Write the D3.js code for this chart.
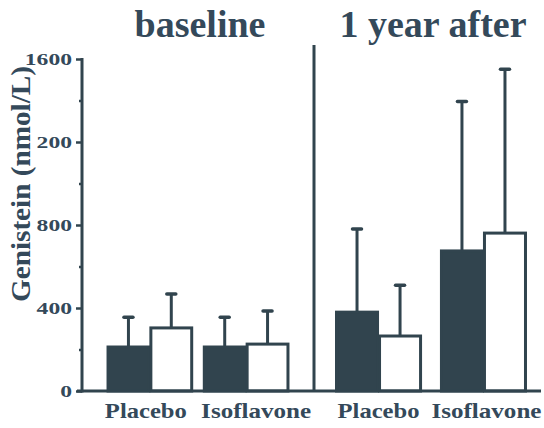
<!DOCTYPE html>
<html>
<head>
<meta charset="utf-8">
<script src="https://cdn.jsdelivr.net/npm/d3@7"></script>
<style>
  html, body { margin: 0; padding: 0; background: #fff; }
  svg { display: block; }
</style>
</head>
<body>
<svg id="chart" width="544" height="428"></svg>
<script>
// ---- data ----
const periods = ["baseline", "1 year after"];
const groups = ["Placebo", "Isoflavone"];
const series = ["filled", "open"];
// means per period x group (baseline Placebo, baseline Isoflavone, 1yr Placebo, 1yr Isoflavone)
const filledMeans = [212, 212, 380, 675];
const filledSD    = [148, 148, 405, 725];
const openMeans   = [304, 226, 265, 761];
const openSD      = [168, 164, 250, 794];
const yTicks      = [0, 400, 800, 1200, 1600];
const yTickLabels = ["0", "400", "800", "200", "1600"];
const yMinorTicks = [200, 600, 1000, 1400];
const yTitle = "Genistein (nmol/L)";

// ---- style ----
const ink = "#31444e";
const textInk = "#34495a";
const serif = "'Liberation Serif', 'Times New Roman', serif";
const labelShift = [-4, 10, 0, 3];

const svg = d3.select("#chart");

const y = d3.scaleLinear().domain([0, 1600]).range([391, 59]);

// panel scales
const panelRanges = { "baseline": [82, 314], "1 year after": [314, 548] };
const panelPads = { "baseline": [0.11, 0.26], "1 year after": [0.18, 0.205] };
const xPanel = {};
periods.forEach(p => {
  xPanel[p] = d3.scaleBand().domain(groups).range(panelRanges[p])
    .paddingInner(panelPads[p][0]).paddingOuter(panelPads[p][1]);
});

// build records
const records = [];
periods.forEach((p, pi) => {
  groups.forEach((g, gi) => {
    const i = pi * groups.length + gi;
    records.push({ period: p, group: g, series: "filled", mean: filledMeans[i], sd: filledSD[i] });
    records.push({ period: p, group: g, series: "open", mean: openMeans[i], sd: openSD[i] });
  });
});

function xSub(d) {
  const xs = xPanel[d.period];
  return d3.scaleBand().domain(series).range([xs(d.group), xs(d.group) + xs.bandwidth()]);
}

// error bars (behind bars)
const errG = svg.append("g");
records.forEach(d => {
  const s = xSub(d);
  const cx = s(d.series) + s.bandwidth() / 2;
  errG.append("line")
    .attr("x1", cx).attr("x2", cx)
    .attr("y1", y(d.mean)).attr("y2", y(d.mean + d.sd))
    .attr("stroke", ink).attr("stroke-width", 3);
  errG.append("line")
    .attr("x1", cx - 4.5).attr("x2", cx + 4.5)
    .attr("y1", y(d.mean + d.sd) + 1).attr("y2", y(d.mean + d.sd) + 1)
    .attr("stroke", ink).attr("stroke-width", 3.5)
    .attr("stroke-linecap", "round");
});

// bars
const barG = svg.append("g");
records.forEach(d => {
  const s = xSub(d);
  barG.append("rect")
    .attr("x", s(d.series) + 1)
    .attr("y", y(d.mean))
    .attr("width", s.bandwidth() - 2)
    .attr("height", y(0) - y(d.mean))
    .attr("fill", d.series === "filled" ? ink : "#fff")
    .attr("stroke", ink)
    .attr("stroke-width", 3);
});

// y axis major
const yAxis = d3.axisLeft(y).tickValues(yTicks)
  .tickFormat((v, i) => yTickLabels[i]).tickSize(6).tickPadding(4);
const ya = svg.append("g").attr("transform", "translate(82,0)").call(yAxis);
ya.attr("font-family", null);
ya.select(".domain").remove();
ya.selectAll(".tick line").attr("stroke", ink).attr("stroke-width", 2.5);
ya.selectAll(".tick text")
  .attr("fill", textInk)
  .style("font-family", serif).style("font-weight", "bold").style("font-size", "17px")
  .attr("textLength", function() { return this.textContent.length * 11.8; })
  .attr("lengthAdjust", "spacingAndGlyphs");

// minor ticks
const yMinor = d3.axisLeft(y).tickValues(yMinorTicks).tickFormat("").tickSize(3);
const ym = svg.append("g").attr("transform", "translate(82,0)").call(yMinor);
ym.select(".domain").remove();
ym.selectAll(".tick line").attr("stroke", ink).attr("stroke-width", 2.5);

// axis line
svg.append("line").attr("x1", 82).attr("x2", 82).attr("y1", y(1600) - 1).attr("y2", y(0) + 1.5)
  .attr("stroke", ink).attr("stroke-width", 3);
// baseline
svg.append("line").attr("x1", 77).attr("x2", 541).attr("y1", y(0)).attr("y2", y(0))
  .attr("stroke", ink).attr("stroke-width", 3);
// separator
svg.append("line").attr("x1", 314).attr("x2", 314).attr("y1", 45).attr("y2", y(0))
  .attr("stroke", ink).attr("stroke-width", 3);

// category labels
let li = 0;
periods.forEach(p => {
  const xs = xPanel[p];
  groups.forEach(g => {
    svg.append("text")
      .attr("x", xs(g) + xs.bandwidth() / 2 + labelShift[li++])
      .attr("y", 418)
      .attr("text-anchor", "middle")
      .attr("fill", textInk)
      .style("font-family", serif).style("font-weight", "bold").style("font-size", "22px")
      .attr("textLength", g === "Placebo" ? 82 : 110)
      .attr("lengthAdjust", "spacingAndGlyphs")
      .text(g);
  });
});

// panel titles
const titleX = { "baseline": 200, "1 year after": 433 };
periods.forEach(p => {
  svg.append("text")
    .attr("x", titleX[p]).attr("y", 37)
    .attr("text-anchor", "middle")
    .attr("fill", textInk)
    .style("font-family", serif).style("font-weight", "bold").style("font-size", "38px")
    .text(p);
});

// y title
svg.append("text")
  .attr("transform", "translate(30,184) rotate(-90)")
  .attr("text-anchor", "middle")
  .attr("fill", textInk)
  .style("font-family", serif).style("font-weight", "bold").style("font-size", "28px")
  .attr("textLength", 236)
  .attr("lengthAdjust", "spacingAndGlyphs")
  .text(yTitle);
</script>
</body>
</html>
